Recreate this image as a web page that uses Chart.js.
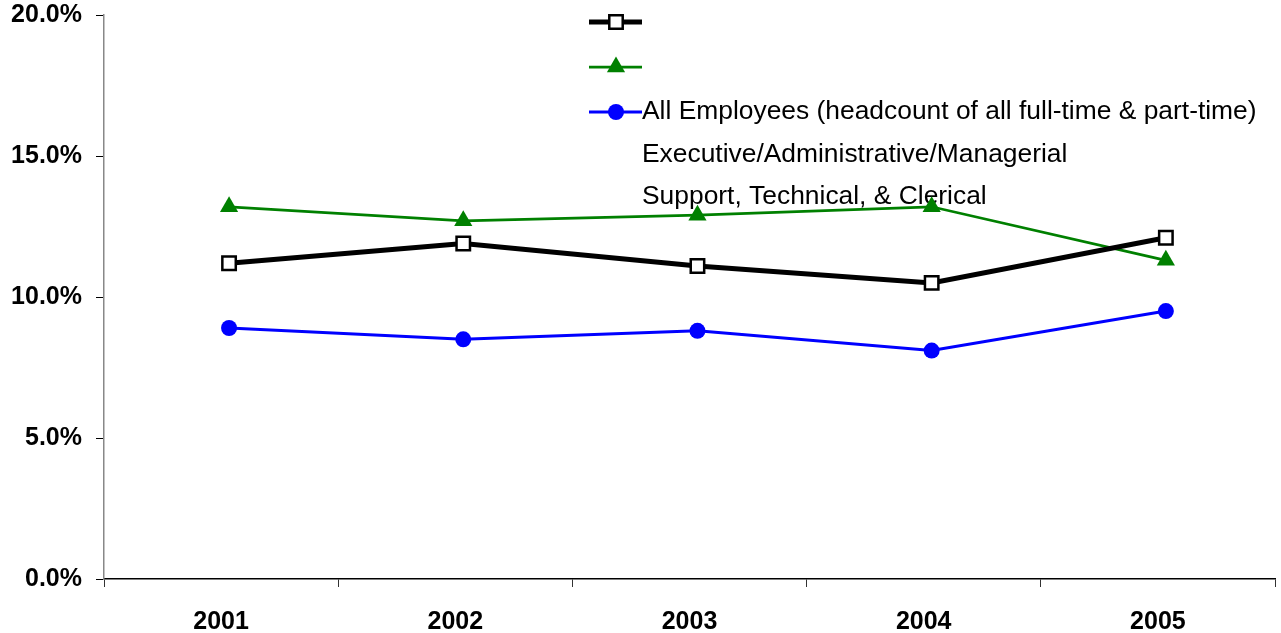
<!DOCTYPE html>
<html>
<head>
<meta charset="utf-8">
<script src="https://cdn.jsdelivr.net/npm/chart.js@4.4.1/dist/chart.umd.min.js"></script>
<style>
  html, body { margin: 0; padding: 0; background: #fff; overflow: hidden; }
  #wrap { width: 1281px; height: 633px; overflow: hidden; }
</style>
</head>
<body>
<!-- canvas a little wider than the page: Chart.js keeps room for marker overflow on the right -->
<div id="wrap"><canvas id="turnoverChart" width="1287" height="633"></canvas></div>
<script>
const years = ['2001', '2002', '2003', '2004', '2005'];
const allEmployees = [11.2, 11.9, 11.1, 10.5, 12.1];
const executive = [13.2, 12.7, 12.9, 13.2, 11.3];
const support = [8.9, 8.5, 8.8, 8.1, 9.5];
const seriesLabels = [
  'All Employees (headcount of all full-time & part-time)',
  'Executive/Administrative/Managerial',
  'Support, Technical, & Clerical'
];
const yTicks = [0, 5, 10, 15, 20];

const FONT = '"Liberation Sans", Arial, Helvetica, sans-serif';

// points sit a bit right of the category centres in the original,
// so they go on a hidden linear axis over the same width
const toPoints = vals => vals.map((v, i) => ({ x: i, y: v }));

const noSidePadding = axis => {
  axis.paddingLeft = 0;
  axis.paddingRight = 0;
};

function drawMark(ctx, style, r, x, y) {
  if (style === 'rect') {
    const s = r * Math.SQRT1_2;
    ctx.rect(x - s, y - s, s * 2, s * 2);
  } else if (style === 'triangle') {
    ctx.moveTo(x, y - r);
    ctx.lineTo(x + Math.sin(2 * Math.PI / 3) * r, y + r / 2);
    ctx.lineTo(x - Math.sin(2 * Math.PI / 3) * r, y + r / 2);
    ctx.closePath();
  } else {
    ctx.arc(x, y, r, 0, Math.PI * 2);
  }
}

// legend drawn by hand: markers and texts sit on different rows, like the original
const oddLegend = {
  id: 'oddLegend',
  beforeDatasetsDraw(chart) {
    const ctx = chart.ctx;
    const markRows = [22, 67, 112];
    const textRows = [112, 155, 197];
    ctx.save();
    chart.data.datasets.forEach((ds, i) => {
      const y = markRows[i];
      ctx.strokeStyle = ds.borderColor;
      ctx.lineWidth = ds.borderWidth;
      ctx.beginPath();
      ctx.moveTo(589, y);
      ctx.lineTo(642, y);
      ctx.stroke();
      ctx.fillStyle = ds.pointBackgroundColor;
      ctx.strokeStyle = ds.pointBorderColor;
      ctx.lineWidth = ds.pointBorderWidth;
      ctx.beginPath();
      drawMark(ctx, ds.pointStyle, ds.pointRadius, 616, y);
      ctx.fill();
      if (ds.pointBorderWidth) ctx.stroke();
    });
    ctx.fillStyle = '#000';
    ctx.font = '26.4px ' + FONT;
    ctx.textBaseline = 'middle';
    ctx.textAlign = 'left';
    seriesLabels.forEach((t, i) => {
      ctx.fillText(t, 642, textRows[i]);
    });
    ctx.restore();
  }
};

new Chart(document.getElementById('turnoverChart').getContext('2d'), {
  type: 'line',
  data: {
    labels: years,
    datasets: [
      {
        label: seriesLabels[0],
        data: toPoints(allEmployees),
        xAxisID: 'xp',
        borderColor: '#000000',
        borderWidth: 5,
        pointStyle: 'rect',
        pointRadius: 9.5,
        pointBorderWidth: 2.5,
        pointBorderColor: '#000000',
        pointBackgroundColor: '#ffffff',
        tension: 0
      },
      {
        label: seriesLabels[1],
        data: toPoints(executive),
        xAxisID: 'xp',
        borderColor: '#008000',
        borderWidth: 2.75,
        pointStyle: 'triangle',
        pointRadius: 10.5,
        pointBorderWidth: 0,
        pointBorderColor: '#008000',
        pointBackgroundColor: '#008000',
        tension: 0
      },
      {
        label: seriesLabels[2],
        data: toPoints(support),
        xAxisID: 'xp',
        borderColor: '#0000ff',
        borderWidth: 3,
        pointStyle: 'circle',
        pointRadius: 8,
        pointBorderWidth: 0,
        pointBorderColor: '#0000ff',
        pointBackgroundColor: '#0000ff',
        tension: 0
      }
    ]
  },
  options: {
    responsive: false,
    animation: false,
    layout: { padding: { top: 15, right: 0, left: 0, bottom: 0 } },
    plugins: {
      legend: { display: false },
      tooltip: { enabled: false }
    },
    scales: {
      x: {
        type: 'category',
        offset: true,
        afterFit(axis) {
          axis.height = 54;
          noSidePadding(axis);
        },
        grid: {
          offset: true,
          drawOnChartArea: false,
          drawTicks: true,
          tickLength: 8,
          color: '#333'
        },
        border: { color: '#000', width: 1.5 },
        ticks: {
          color: '#000',
          padding: 20,
          font: { family: FONT, size: 25, weight: 'bold' }
        }
      },
      xp: {
        type: 'linear',
        display: false,
        min: -0.534,
        max: 4.466,
        afterFit: noSidePadding
      },
      y: {
        min: 0,
        max: 20,
        afterBuildTicks(axis) {
          axis.ticks = yTicks.map(v => ({ value: v }));
        },
        afterFit(axis) {
          axis.width = 104;
          axis.paddingTop = 0;
          axis.paddingBottom = 0;
        },
        grid: {
          drawOnChartArea: false,
          drawTicks: true,
          tickLength: 8,
          color: '#000'
        },
        border: { color: '#888', width: 1.5 },
        ticks: {
          color: '#000',
          padding: 14,
          font: { family: FONT, size: 25, weight: 'bold' },
          callback: v => v.toFixed(1) + '%'
        }
      }
    }
  },
  plugins: [oddLegend]
});
</script>
</body>
</html>
